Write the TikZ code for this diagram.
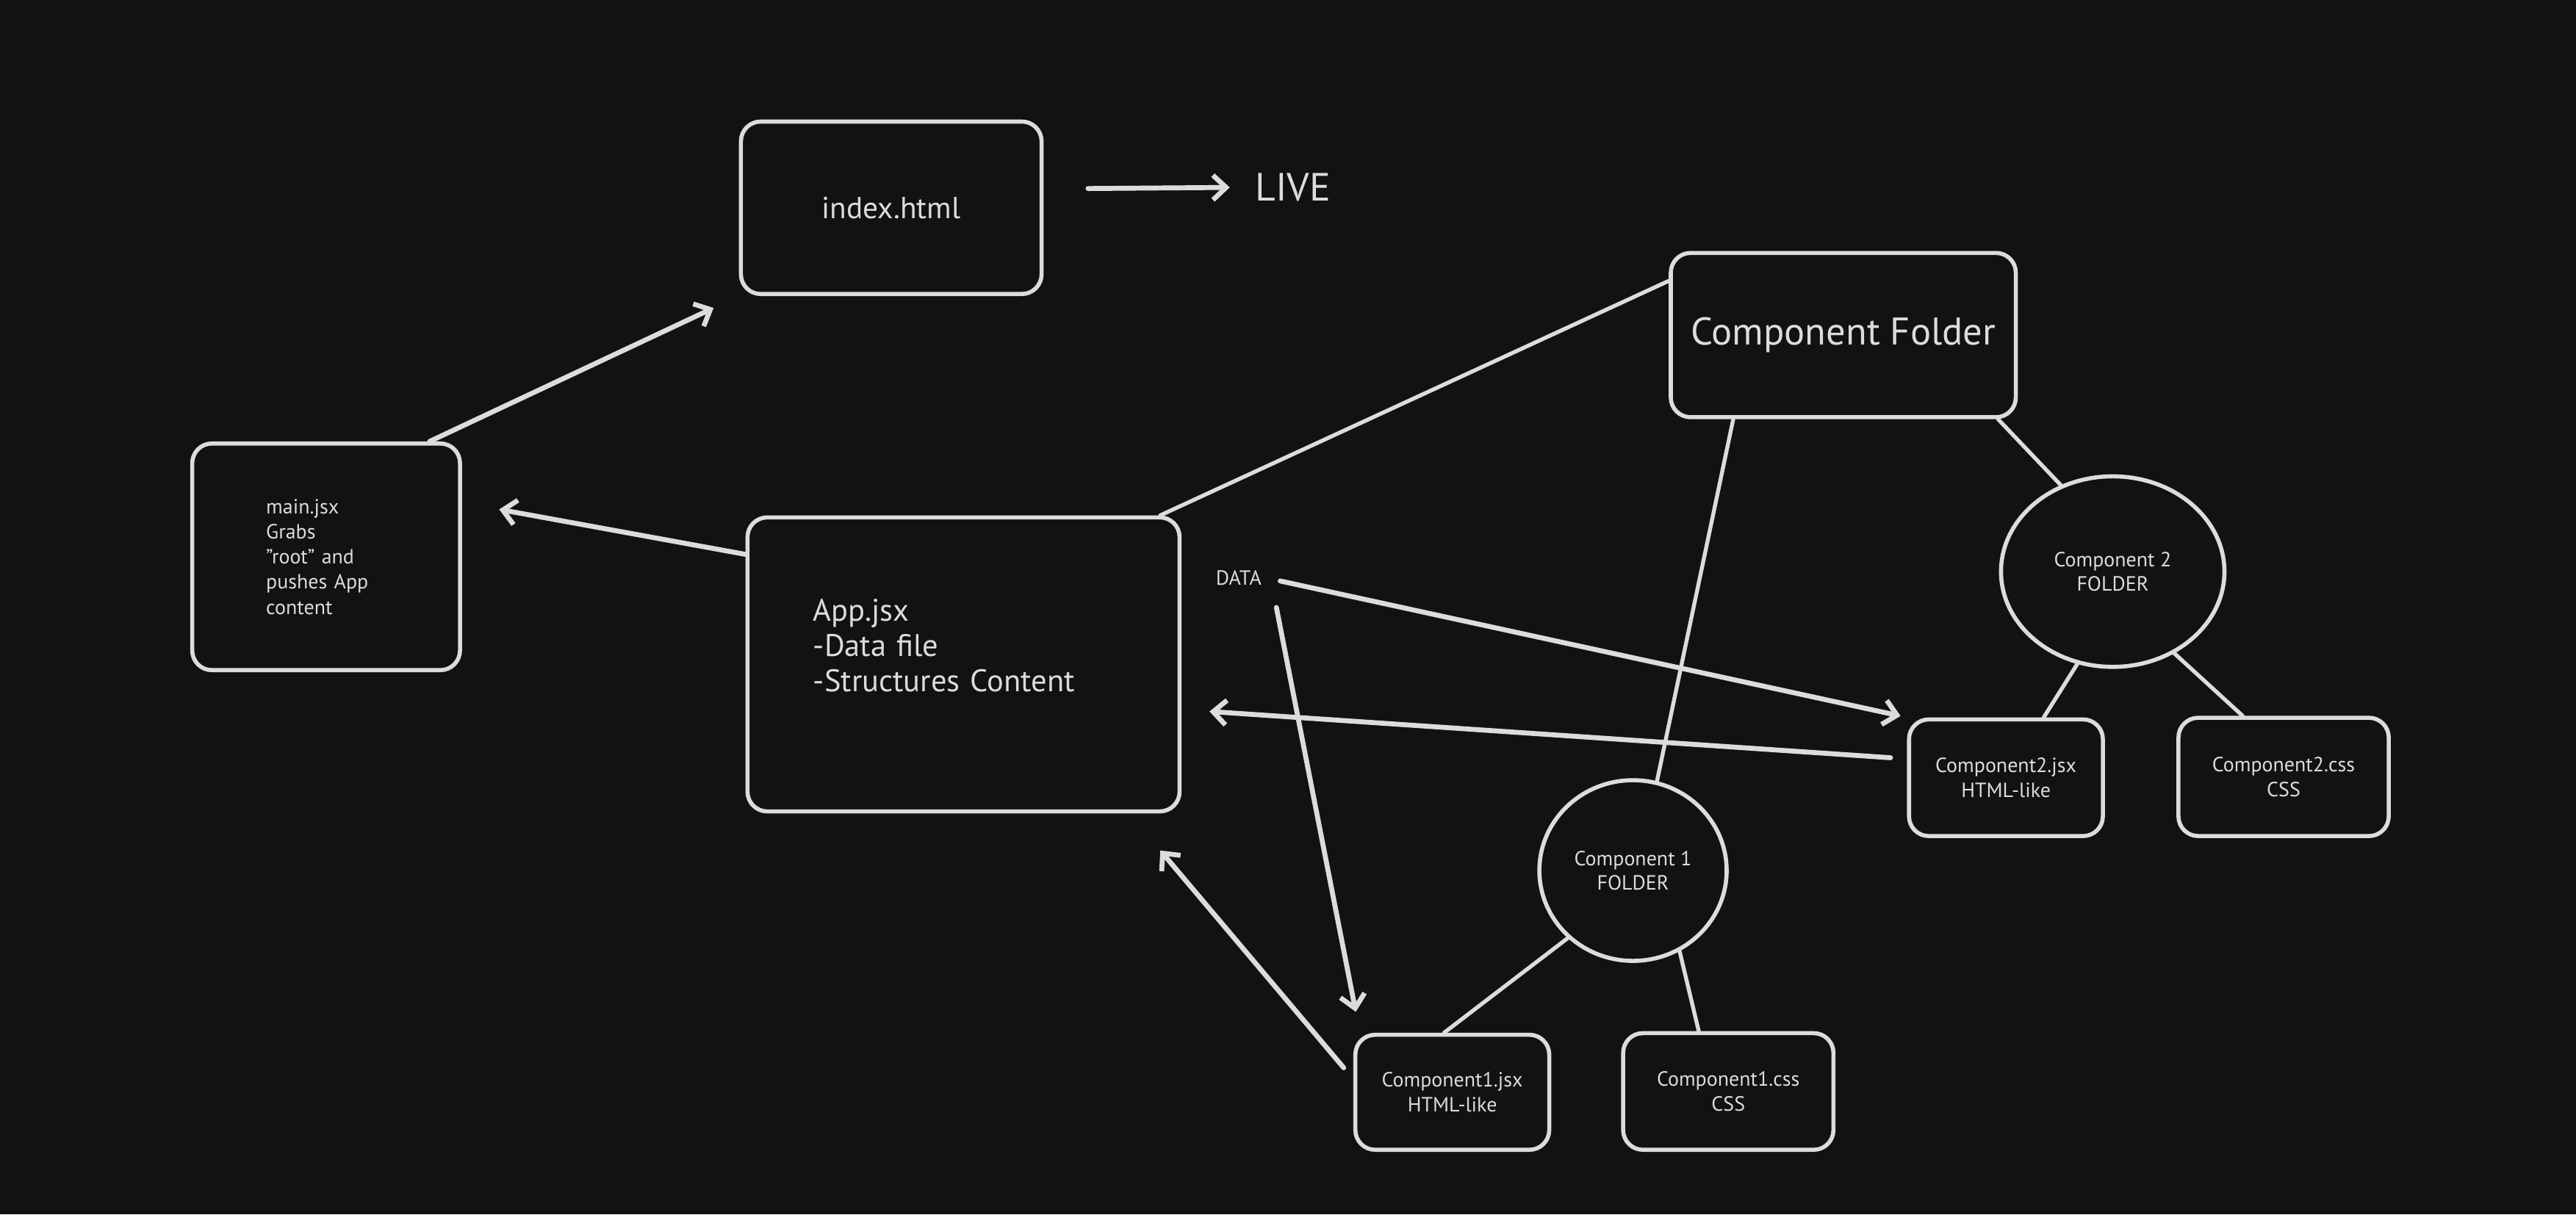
\documentclass[tikz,border=0pt]{standalone}
\usepackage{fontspec}
\setmainfont{PT Sans}
\usetikzlibrary{arrows.meta,shapes.geometric}
\definecolor{fundo}{HTML}{121212}
\definecolor{traco}{HTML}{DCDCDC}
\begin{document}
\begin{tikzpicture}[x=1pt,y=-1pt,>={Straight Barb[length=8pt,width=15pt]},
	every node/.style={text=traco},
	caixa/.style={draw=traco,line width=2.5pt,rounded corners=12pt,fill=fundo,align=center},
	pasta/.style={ellipse,draw=traco,line width=2.5pt,fill=fundo,align=center,inner sep=0pt,font=\fontsize{12.5}{15}\selectfont},
	miudo/.style={font=\fontsize{12.5}{15}\selectfont},
	seta/.style={->,draw=traco,line width=3pt,line cap=round},
	liga/.style={draw=traco,line width=2.4pt,line cap=round}]
	
	% fundo
	\fill[fundo] (0,0) rectangle (1568,739.3);
	
	% index.html e LIVE
	\node[caixa,minimum width=183pt,minimum height=105pt,font=\fontsize{18.5}{22}\selectfont] (index) at (542.5,126.5) {index.html};
	\node[font=\fontsize{24}{28}\selectfont] (live) at (787,114) {LIVE};
	
	% main.jsx
	\node[caixa,align=left,text width=73pt,inner xsep=45pt,minimum height=138pt,font=\fontsize{12.5}{15.3}\selectfont] (main) at (198.5,339)
	{main.jsx\\Grabs\\"root" and\\pushes App\\content};
	
	% App.jsx
	\node[caixa,align=left,text width=183pt,inner xsep=40pt,minimum height=179pt,font=\fontsize{19}{21.5}\selectfont] (app) at (586.5,404.5)
	{App.jsx\\-Data file\\-Structures Content\\[2pt]\mbox{}};
	
	% pasta dos componentes
	\node[caixa,minimum width=210pt,minimum height=100pt,font=\fontsize{23.5}{27}\selectfont] (cf) at (1122,204) {Component Folder};
	\node[pasta,minimum width=136pt,minimum height=116pt] (c2) at (1286,348) {Component 2\\FOLDER};
	\node[pasta,minimum width=114pt,minimum height=110pt] (c1) at (994,530) {Component 1\\FOLDER};
	
	% arquivos dos componentes
	\node[caixa,miudo,minimum width=118pt,minimum height=71pt] (c2jsx) at (1221,473.5) {Component2.jsx\\HTML-like};
	\node[caixa,miudo,minimum width=128pt,minimum height=72pt] (c2css) at (1390,473) {Component2.css\\CSS};
	\node[caixa,miudo,minimum width=118pt,minimum height=70pt] (c1jsx) at (884,665) {Component1.jsx\\HTML-like};
	\node[caixa,miudo,minimum width=128pt,minimum height=71pt] (c1css) at (1052,664.5) {Component1.css\\CSS};
	
	% rotulo DATA
	\node[font=\fontsize{12.5}{15}\selectfont] (data) at (754,352) {DATA};
	
	% ligacoes
	\draw[liga] ([xshift=-13pt]app.north east) -- ([yshift=33pt]cf.west);
	\draw[liga] ([xshift=-67pt]cf.south) -- (c1.75);
	\draw[liga] ([xshift=-12pt]cf.south east) -- (c2.121);
	\draw[liga] (c2.249) -- ([xshift=23pt]c2jsx.north);
	\draw[liga] (c2.307) -- ([xshift=-25pt]c2css.north);
	\draw[liga] (c1.226) -- ([xshift=-5pt]c1jsx.north);
	\draw[liga] (c1.300) -- ([xshift=-18pt]c1css.north);
	
	% setas
	\draw[seta,shorten <=27pt,shorten >=12pt] ([yshift=11.5pt]index.east) -- (live.west);
	\draw[seta,shorten >=17pt] ([xshift=63pt]main.north) -- (index.south west);
	\draw[seta,shorten >=23pt] ([yshift=67pt]app.west) -- ([yshift=33pt]main.east);
	\draw[seta,shorten <=8pt,shorten >=4pt] (data.east) -- (c2jsx.north west);
	\draw[seta,shorten <=10pt,shorten >=13pt] ([xshift=21pt]data.south) -- ([xshift=4pt]c1jsx.north west);
	\draw[seta,shorten <=10pt,shorten >=17pt] ([yshift=11.5pt]c2jsx.west) -- ([yshift=-27.5pt]app.east);
	\draw[seta,shorten <=9pt,shorten >=29.5pt] ([yshift=8pt]c1jsx.west) -- ([xshift=-32pt]app.south east);
	
\end{tikzpicture}
\end{document}
